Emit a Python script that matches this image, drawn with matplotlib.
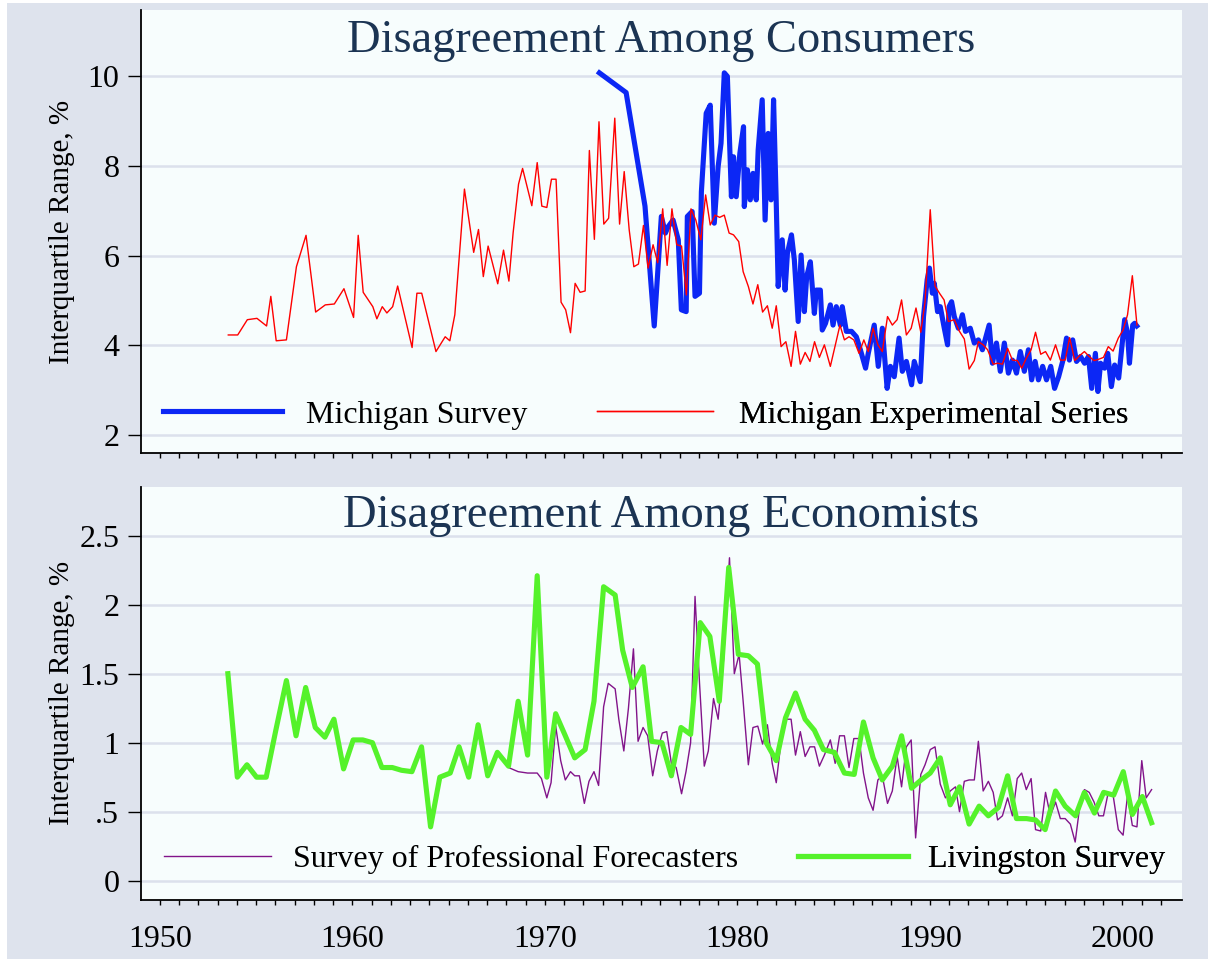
import matplotlib
matplotlib.use("Agg")
import matplotlib.pyplot as plt
from matplotlib.patches import Rectangle

plt.rcParams['font.family'] = ['Liberation Serif', 'DejaVu Serif']

# ---- data ----
mich_year = [1972.83, 1974.22, 1975.20, 1975.68, 1976.05, 1976.26, 1976.40, 1976.66, 1976.93, 1977.09,
             1977.34, 1977.40, 1977.65, 1977.80, 1978.03, 1978.13, 1978.38, 1978.59, 1978.80, 1979.00,
             1979.15, 1979.32, 1979.48, 1979.69, 1979.80, 1979.94, 1980.13, 1980.32, 1980.36, 1980.52,
             1980.67, 1980.81, 1980.98, 1981.08, 1981.29, 1981.44, 1981.60, 1981.75, 1981.88, 1982.02,
             1982.12, 1982.33, 1982.48, 1982.60, 1982.81, 1982.96, 1983.16, 1983.31, 1983.48, 1983.60,
             1983.79, 1984.00, 1984.10, 1984.31, 1984.41, 1984.58, 1984.83, 1984.97, 1985.14, 1985.35,
             1985.45, 1985.66, 1985.93, 1986.18, 1986.39, 1986.66, 1986.80, 1987.11, 1987.32, 1987.53,
             1987.78, 1987.95, 1988.15, 1988.40, 1988.57, 1988.78, 1989.05, 1989.19, 1989.50, 1989.67,
             1989.86, 1989.98, 1990.13, 1990.23, 1990.40, 1990.54, 1990.75, 1990.92, 1991.00, 1991.13,
             1991.27, 1991.48, 1991.69, 1991.85, 1992.10, 1992.31, 1992.52, 1992.73, 1992.94, 1993.08,
             1993.25, 1993.46, 1993.66, 1993.87, 1994.08, 1994.29, 1994.50, 1994.70, 1994.91, 1995.12,
             1995.29, 1995.47, 1995.64, 1995.86, 1996.06, 1996.28, 1996.48, 1996.69, 1996.90, 1997.10,
             1997.25, 1997.42, 1997.62, 1997.83, 1998.04, 1998.24, 1998.41, 1998.60, 1998.73, 1998.87,
             1999.08, 1999.24, 1999.43, 1999.60, 1999.81, 1999.96, 2000.12, 2000.27, 2000.37, 2000.54,
             2000.64, 2000.75]
mich_iqr = [10.07, 9.63, 7.10, 4.43, 6.87, 6.50, 6.64, 6.79, 6.35, 4.79,
            4.75, 6.87, 6.98, 5.09, 5.16, 7.42, 9.17, 9.35, 6.72, 7.98,
            8.50, 10.07, 9.99, 7.31, 8.20, 7.31, 8.28, 8.87, 7.09, 7.91,
            7.24, 7.83, 7.24, 8.35, 9.47, 6.79, 8.72, 7.24, 9.47, 7.16,
            5.31, 6.35, 5.23, 6.05, 6.46, 5.90, 4.53, 6.01, 4.75, 5.53,
            5.86, 4.71, 5.23, 5.23, 4.34, 4.49, 4.90, 4.45, 4.86, 4.45,
            4.86, 4.31, 4.31, 4.19, 3.90, 3.49, 3.82, 4.45, 3.53, 4.38,
            3.04, 3.53, 3.30, 4.16, 3.42, 3.64, 3.12, 3.64, 3.19, 4.64,
            5.46, 5.72, 5.16, 5.38, 4.75, 4.86, 4.38, 4.01, 4.86, 4.97,
            4.64, 4.38, 4.68, 4.31, 4.38, 4.05, 4.12, 3.90, 4.23, 4.45,
            3.60, 4.05, 3.42, 4.05, 3.38, 3.67, 3.38, 3.86, 3.42, 3.90,
            3.23, 3.64, 3.23, 3.53, 3.23, 3.53, 3.04, 3.30, 3.64, 4.16,
            3.67, 4.12, 3.64, 3.75, 3.60, 3.75, 3.04, 3.82, 2.97, 3.60,
            3.49, 3.82, 3.08, 3.56, 3.27, 3.90, 4.57, 4.27, 3.60, 4.45,
            4.49, 4.43]

exp_year = [1953.55, 1954.04, 1954.54, 1955.04, 1955.54, 1955.76, 1956.04, 1956.57, 1957.09, 1957.59,
            1958.09, 1958.59, 1959.06, 1959.56, 1960.06, 1960.30, 1960.56, 1961.06, 1961.27, 1961.55,
            1961.79, 1962.09, 1962.35, 1963.10, 1963.35, 1963.60, 1964.34, 1964.82, 1965.06, 1965.32,
            1965.82, 1966.30, 1966.55, 1966.80, 1967.05, 1967.55, 1967.85, 1968.13, 1968.35, 1968.63,
            1968.84, 1969.32, 1969.60, 1969.84, 1970.10, 1970.34, 1970.58, 1970.84, 1971.08, 1971.33,
            1971.57, 1971.83, 1972.09, 1972.31, 1972.57, 1972.81, 1973.06, 1973.31, 1973.63, 1973.88,
            1974.12, 1974.38, 1974.62, 1974.86, 1975.12, 1975.36, 1975.62, 1975.86, 1976.12, 1976.35,
            1976.60, 1976.85, 1977.10, 1977.35, 1977.59, 1977.84, 1978.10, 1978.35, 1978.59, 1978.84,
            1979.08, 1979.32, 1979.57, 1979.80, 1980.07, 1980.30, 1980.57, 1980.81, 1981.06, 1981.31,
            1981.56, 1981.81, 1982.02, 1982.27, 1982.52, 1982.79, 1983.02, 1983.27, 1983.52, 1983.77,
            1984.01, 1984.26, 1984.52, 1984.83, 1985.33, 1985.56, 1985.80, 1986.05, 1986.32, 1986.57,
            1986.80, 1987.05, 1987.30, 1987.53, 1987.80, 1988.05, 1988.30, 1988.53, 1988.78, 1989.03,
            1989.28, 1989.53, 1989.75, 1990.02, 1990.27, 1990.50, 1990.74, 1990.96, 1991.27, 1991.51,
            1991.79, 1992.04, 1992.31, 1992.52, 1992.77, 1993.00, 1993.29, 1993.52, 1993.77, 1994.04,
            1994.29, 1994.54, 1994.77, 1995.01, 1995.26, 1995.49, 1995.76, 1996.01, 1996.26, 1996.53,
            1996.78, 1997.03, 1997.26, 1997.53, 1997.78, 1998.03, 1998.28, 1998.53, 1998.78, 1999.02,
            1999.27, 1999.52, 1999.79, 2000.04, 2000.27, 2000.52, 2000.76]
exp_iqr = [4.23, 4.23, 4.57, 4.60, 4.43, 5.09, 4.10, 4.12, 5.75, 6.45,
           4.74, 4.90, 4.92, 5.26, 4.62, 6.45, 5.18, 4.86, 4.59, 4.86,
           4.72, 4.86, 5.32, 3.95, 5.16, 5.16, 3.86, 4.19, 4.10, 4.68,
           7.48, 6.07, 6.58, 5.53, 6.21, 5.37, 6.12, 5.43, 6.51, 7.59,
           7.94, 7.11, 8.07, 7.10, 7.07, 7.70, 7.70, 4.96, 4.79, 4.28,
           5.38, 5.18, 5.21, 8.34, 6.36, 8.98, 6.70, 6.83, 9.06, 6.70,
           7.87, 6.57, 5.75, 5.81, 6.67, 5.72, 6.24, 5.84, 7.04, 5.78,
           7.04, 6.24, 6.21, 5.12, 7.04, 6.79, 6.35, 7.35, 6.68, 6.90,
           6.85, 6.90, 6.50, 6.46, 6.31, 5.64, 5.31, 4.92, 5.35, 4.74,
           4.88, 4.38, 4.88, 3.97, 4.08, 3.53, 4.31, 3.58, 3.84, 3.64,
           4.08, 3.73, 4.01, 3.53, 4.45, 4.12, 4.19, 4.12, 3.82, 4.12,
           3.86, 4.38, 4.01, 3.86, 4.64, 4.45, 4.57, 5.01, 4.23, 4.38,
           4.83, 4.29, 4.97, 7.02, 5.32, 5.16, 5.01, 4.53, 4.57, 4.33,
           4.14, 3.47, 3.66, 4.08, 4.01, 3.90, 3.58, 3.60, 3.58, 3.93,
           3.67, 3.66, 3.49, 3.71, 3.90, 4.29, 3.80, 3.86, 3.67, 4.01,
           3.67, 3.67, 4.17, 3.66, 3.77, 3.86, 3.75, 3.66, 3.69, 3.73,
           3.97, 3.87, 4.16, 4.34, 4.68, 5.55, 4.45]

spf_year = [1968.11, 1968.61, 1969.10, 1969.60, 1969.82, 1970.10, 1970.32, 1970.56, 1970.82, 1971.06,
            1971.33, 1971.55, 1971.79, 1972.05, 1972.29, 1972.55, 1972.79, 1973.05, 1973.29, 1973.65,
            1973.84, 1974.10, 1974.34, 1974.60, 1974.84, 1975.10, 1975.34, 1975.60, 1975.84, 1976.10,
            1976.33, 1976.57, 1976.82, 1977.10, 1977.33, 1977.57, 1977.80, 1978.03, 1978.28, 1978.49,
            1978.76, 1979.00, 1979.28, 1979.59, 1979.84, 1980.09, 1980.30, 1980.57, 1980.81, 1981.06,
            1981.31, 1981.56, 1981.81, 1982.02, 1982.27, 1982.52, 1982.79, 1983.02, 1983.27, 1983.52,
            1983.77, 1984.01, 1984.26, 1984.52, 1984.83, 1985.08, 1985.31, 1985.56, 1985.80, 1986.05,
            1986.32, 1986.55, 1986.80, 1987.05, 1987.30, 1987.53, 1987.80, 1988.05, 1988.30, 1988.53,
            1988.78, 1989.03, 1989.26, 1989.53, 1989.75, 1990.02, 1990.27, 1990.54, 1990.81, 1991.06,
            1991.33, 1991.54, 1991.79, 1992.04, 1992.31, 1992.52, 1992.77, 1993.04, 1993.29, 1993.52,
            1993.77, 1994.04, 1994.29, 1994.54, 1994.77, 1995.01, 1995.26, 1995.49, 1995.76, 1996.01,
            1996.26, 1996.53, 1996.78, 1997.03, 1997.30, 1997.55, 1997.78, 1998.03, 1998.28, 1998.53,
            1998.78, 1999.02, 1999.27, 1999.52, 1999.79, 2000.04, 2000.27, 2000.52, 2000.76, 2001.01,
            2001.24, 2001.52]
spf_iqr = [0.82, 0.79, 0.78, 0.78, 0.74, 0.60, 0.71, 1.12, 0.87, 0.73,
           0.79, 0.76, 0.76, 0.56, 0.72, 0.79, 0.69, 1.26, 1.43, 1.39,
           1.17, 0.94, 1.25, 1.68, 1.01, 1.11, 1.05, 0.76, 0.94, 1.07,
           1.08, 0.85, 0.82, 0.63, 0.79, 1.00, 2.06, 1.44, 0.83, 0.94,
           1.32, 1.17, 1.60, 2.34, 1.50, 1.64, 1.30, 0.84, 1.11, 1.12,
           0.99, 1.13, 0.85, 0.71, 1.01, 1.17, 1.17, 0.91, 1.08, 0.90,
           0.97, 0.97, 0.83, 0.91, 1.02, 0.85, 1.05, 1.05, 0.82, 1.03,
           1.03, 0.78, 0.60, 0.51, 0.73, 0.76, 0.56, 0.65, 0.90, 0.68,
           0.97, 1.02, 0.31, 0.77, 0.84, 0.95, 0.97, 0.70, 0.60, 0.65,
           0.68, 0.50, 0.72, 0.73, 0.73, 1.01, 0.65, 0.72, 0.64, 0.44,
           0.47, 0.60, 0.47, 0.74, 0.78, 0.66, 0.74, 0.37, 0.36, 0.64,
           0.47, 0.57, 0.45, 0.45, 0.41, 0.28, 0.53, 0.66, 0.64, 0.57,
           0.47, 0.47, 0.64, 0.62, 0.37, 0.33, 0.62, 0.40, 0.39, 0.87,
           0.60, 0.66]

liv_year = [1953.53, 1954.02, 1954.52, 1955.02, 1955.52, 1956.02, 1956.57, 1957.07, 1957.57, 1958.07,
            1958.57, 1959.04, 1959.54, 1960.04, 1960.54, 1961.04, 1961.53, 1962.07, 1962.55, 1963.09,
            1963.59, 1964.06, 1964.54, 1965.08, 1965.54, 1966.04, 1966.53, 1967.03, 1967.53, 1968.11,
            1968.61, 1969.10, 1969.60, 1970.10, 1970.56, 1971.06, 1971.55, 1972.09, 1972.55, 1973.05,
            1973.65, 1974.04, 1974.54, 1975.10, 1975.54, 1976.08, 1976.57, 1977.07, 1977.57, 1978.07,
            1978.57, 1979.06, 1979.55, 1980.05, 1980.57, 1981.04, 1981.50, 1982.02, 1982.50, 1983.02,
            1983.52, 1984.00, 1984.47, 1985.04, 1985.56, 1986.07, 1986.55, 1987.05, 1987.53, 1988.05,
            1988.53, 1989.05, 1989.55, 1990.02, 1990.54, 1991.06, 1991.54, 1992.04, 1992.56, 1993.04,
            1993.56, 1994.04, 1994.50, 1995.02, 1995.49, 1995.99, 1996.53, 1997.03, 1997.57, 1998.03,
            1998.55, 1999.03, 1999.55, 2000.05, 2000.52, 2001.04, 2001.52]
liv_iqr = [1.50, 0.75, 0.84, 0.75, 0.75, 1.09, 1.45, 1.05, 1.40, 1.11,
           1.04, 1.17, 0.81, 1.02, 1.02, 1.00, 0.82, 0.82, 0.80, 0.79,
           0.97, 0.39, 0.75, 0.78, 0.97, 0.75, 1.13, 0.76, 0.93, 0.83,
           1.30, 0.91, 2.21, 0.75, 1.21, 1.05, 0.89, 0.95, 1.30, 2.13,
           2.07, 1.67, 1.40, 1.55, 1.01, 1.00, 0.76, 1.11, 1.06, 1.87,
           1.77, 1.30, 2.27, 1.64, 1.63, 1.57, 1.00, 0.87, 1.18, 1.36,
           1.17, 1.09, 0.95, 0.93, 0.78, 0.77, 1.15, 0.89, 0.73, 0.83,
           1.05, 0.67, 0.73, 0.78, 0.89, 0.55, 0.68, 0.41, 0.54, 0.47,
           0.53, 0.76, 0.45, 0.45, 0.44, 0.37, 0.65, 0.54, 0.47, 0.64,
           0.49, 0.64, 0.62, 0.79, 0.48, 0.61, 0.42]

top_ticks = [2, 4, 6, 8, 10]
top_tick_labels = ['2', '4', '6', '8', '10']
bot_ticks = [0, 0.5, 1, 1.5, 2, 2.5]
bot_tick_labels = ['0', '.5', '1', '1.5', '2', '2.5']
years = list(range(1950, 2003))

# ---- colours ----
OUTER = '#DEE3ED'
PLOT_BG = '#F7FDFD'
GRID = '#DCE1EC'
TITLE_C = '#1B3453'

W, H = 1208, 959
fig = plt.figure(figsize=(W / 100, H / 100), dpi=100, facecolor='white')
fig.patches.append(Rectangle((7 / W, 0), 1, 1 - 3 / H, transform=fig.transFigure,
                             facecolor=OUTER, edgecolor='none', zorder=-10))

ax1 = fig.add_axes([140.7 / W, 1 - 453 / H, 1041.3 / W, 443 / H])
ax2 = fig.add_axes([140.7 / W, 1 - 900 / H, 1041.3 / W, 413.3 / H])


def style(ax, ticks, labels, ylim, title, title_y):
    ax.set_facecolor(PLOT_BG)
    ax.set_xlim(1949.0, 2003.1)
    ax.set_ylim(ylim)
    for s in ['top', 'right']:
        ax.spines[s].set_visible(False)
    for s in ['left', 'bottom']:
        ax.spines[s].set_color('black')
        ax.spines[s].set_linewidth(1.3)
    ax.set_yticks(ticks)
    ax.set_yticklabels(labels)
    ax.yaxis.grid(True, color=GRID, lw=1.8)
    ax.set_axisbelow(True)
    ax.set_xticks(years)
    ax.set_xticklabels([str(y) if y % 10 == 0 else '' for y in years])
    ax.tick_params(axis='y', length=9.4, width=1.0, pad=6, labelsize=23)
    ax.tick_params(axis='x', length=3.8, width=1.0, pad=14, labelsize=23)
    ax.set_ylabel('Interquartile Range, %', fontsize=21, va='center')
    ax.yaxis.set_label_coords(-0.0756, 0.5)
    ax.text(0.5, title_y, title, transform=ax.transAxes, ha='center', va='baseline',
            fontsize=33.5, color=TITLE_C)


style(ax1, top_ticks, top_tick_labels, (1.6, 11.47), 'Disagreement Among Consumers', 0.905)
style(ax2, bot_ticks, bot_tick_labels, (-0.14, 2.855), 'Disagreement Among Economists', 0.9025)
ax1.tick_params(axis='x', labelbottom=False)

l_mich, = ax1.plot(mich_year, mich_iqr, color='#0C27F5', lw=3.7)
l_exp, = ax1.plot(exp_year, exp_iqr, color='#FF0000', lw=1.0)
l_spf, = ax2.plot(spf_year, spf_iqr, color='#82148A', lw=1.0)
l_liv, = ax2.plot(liv_year, liv_iqr, color='#55F22B', lw=3.7)


def add_legend(ax, handle, label, x, y, hl, tp):
    leg = ax.legend([handle], [label], loc='center left', bbox_to_anchor=(x, y),
                    frameon=False, fontsize=23, handlelength=hl, handletextpad=tp,
                    borderpad=0, borderaxespad=0)
    ax.add_artist(leg)


add_legend(ax1, l_mich, 'Michigan Survey', 0.021, 0.0858, 3.75, 0.73)
add_legend(ax1, l_exp, 'Michigan Experimental Series', 0.438, 0.0858, 3.65, 0.81)
add_legend(ax2, l_spf, 'Survey of Professional Forecasters', 0.022, 0.099, 3.35, 0.69)
add_legend(ax2, l_liv, 'Livingston Survey', 0.631, 0.099, 3.45, 0.63)

fig.savefig('out.png', dpi=100, facecolor=fig.get_facecolor())
